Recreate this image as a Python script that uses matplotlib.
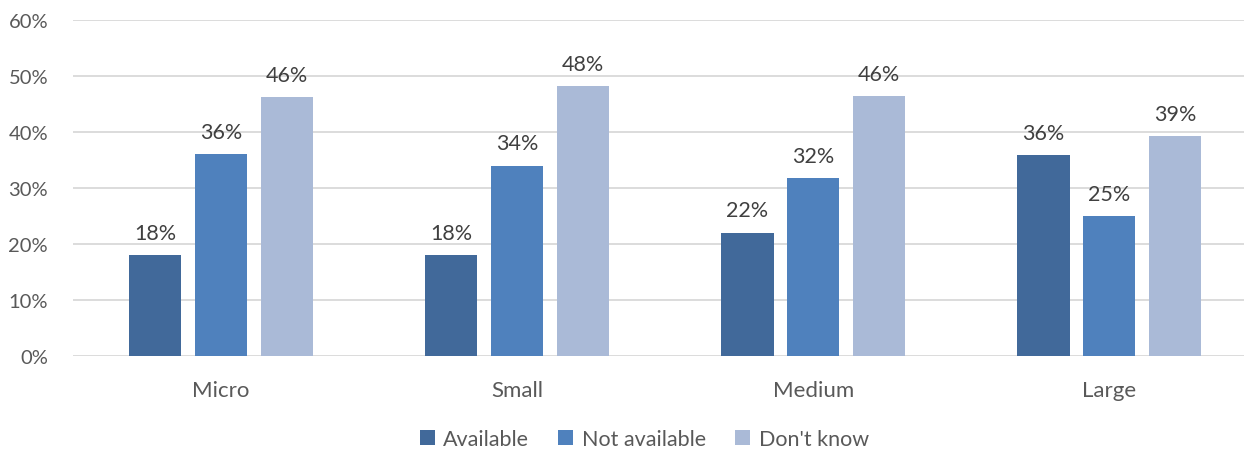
import matplotlib.pyplot as plt
import numpy as np

plt.rcParams['font.family'] = ['Lato', 'DejaVu Sans']

sizes = ["Micro", "Small", "Medium", "Large"]
series = ["Available", "Not available", "Don't know"]
available = [18.0, 18.0, 22.0, 35.8]
not_available = [36.0, 34.0, 31.7, 25.0]
dont_know = [46.2, 48.2, 46.4, 39.3]
values = [available, not_available, dont_know]
colors = ["#41699A", "#4F81BD", "#AABAD7"]
text_col = "#595959"

fig = plt.figure(figsize=(12.44, 4.52), dpi=100)
ax = fig.add_axes([0.0587, 0.2102, 0.952, 0.7434])

x = np.arange(len(sizes))
width = 0.176
step = 0.222
for i, (name, vals, c) in enumerate(zip(series, values, colors)):
    pos = x + (i - 1) * step
    bars = ax.bar(pos, vals, width, color=c, label=name, zorder=3)
    for b, v in zip(bars, vals):
        ax.text(b.get_x() + b.get_width() / 2, v + 2.2, f"{v:.0f}%",
                ha="center", va="bottom", fontsize=15.5, color="#404040")

ax.set_ylim(0, 60)
ax.set_xlim(-0.5, 3.5)
ax.set_yticks(range(0, 61, 10))
ax.set_yticklabels([f"{t}%" for t in range(0, 61, 10)], fontsize=14.5)
ax.set_xticks(x)
ax.set_xticklabels(sizes, fontsize=16)
ax.tick_params(axis="both", length=0, colors=text_col)
ax.tick_params(axis="y", pad=18)
ax.tick_params(axis="x", pad=17)
ax.grid(axis="y", color="#D9D9D9", linewidth=1.3, zorder=0)
for s in ax.spines.values():
    s.set_visible(False)

handles, labels = ax.get_legend_handles_labels()
leg = fig.legend(handles, labels, loc="center", bbox_to_anchor=(0.518, 0.027), ncol=3,
                 frameon=False, fontsize=15.5, handlelength=0.7, handleheight=0.7,
                 handletextpad=0.4, columnspacing=1.35)
for t in leg.get_texts():
    t.set_color(text_col)

fig.savefig("out.png", dpi=100)
